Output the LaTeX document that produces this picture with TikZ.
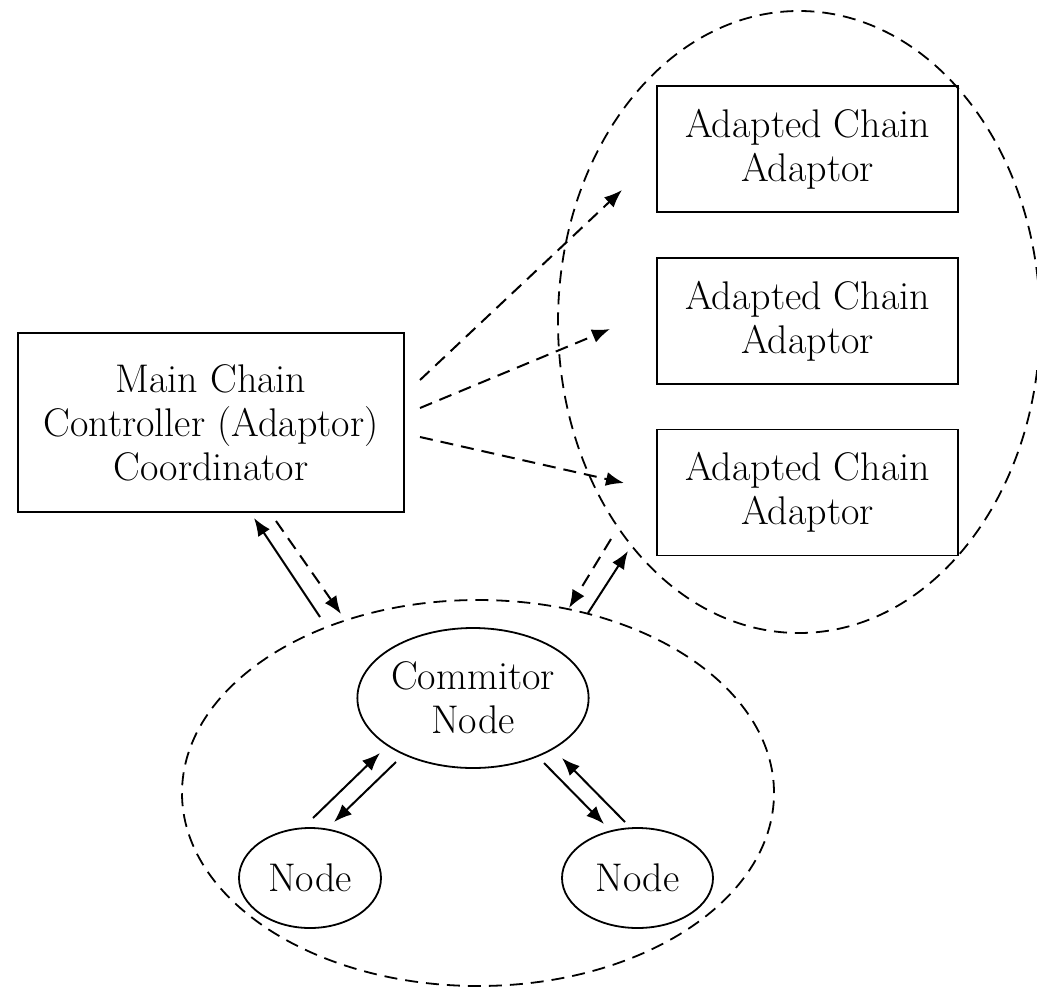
\documentclass[tikz,border=0pt]{standalone}
\usetikzlibrary{shapes.geometric,arrows.meta}
\begin{document}
\begin{tikzpicture}[x=0.5pt,y=-0.5pt,
  txt/.style={font=\fontsize{20}{22}\selectfont,align=center},
  box/.style={txt,draw,line width=0.9pt,rectangle,inner sep=0pt},
  oval/.style={txt,draw,line width=0.9pt,ellipse,inner sep=0pt},
  group/.style={draw,ellipse,line width=0.9pt,dash pattern=on 6.5pt off 4pt,inner sep=0pt},
  conn/.style={line width=1pt,-{Latex[length=9pt,width=7pt]}},
  dconn/.style={conn,dash pattern=on 6.5pt off 4pt}]
\useasboundingbox (0,0) rectangle (1037,990);
% groups
\node[group,minimum width=241pt,minimum height=311pt] (rgrp) at (799,322) {};
\node[group,minimum width=296pt,minimum height=193pt] (bgrp) at (478,793) {};
% main box
\node[box,minimum width=193pt,minimum height=89.5pt] (main) at (211,422.5) {Main Chain\\Controller (Adaptor)\\Coordinator};
% adapted boxes
\node[box,minimum width=150.5pt,minimum height=63pt] (a1) at (807.5,149) {Adapted Chain\\Adaptor};
\node[box,minimum width=150.5pt,minimum height=63pt] (a2) at (807.5,321) {Adapted Chain\\Adaptor};
\node[box,minimum width=150.5pt,minimum height=63pt] (a3) at (807.5,492.5) {Adapted Chain\\Adaptor};
% nodes
\node[oval,minimum width=108pt,minimum height=70pt] (cn) at (473,698) {Commitor\\Node};
\node[oval,minimum width=71pt,minimum height=50pt] (nl) at (310,878) {Node};
\node[oval,minimum width=75.5pt,minimum height=50pt] (nr) at (637.5,878) {Node};
% endpoints
\coordinate (m1) at (420,380); \coordinate (t1) at (622,190);
\coordinate (m2) at (420,408); \coordinate (t2) at (610,329);
\coordinate (m3) at (420,437); \coordinate (t3) at (624,483);
\coordinate (ls1) at (320,617); \coordinate (le1) at (254,518);
\coordinate (ls2) at (276,521); \coordinate (le2) at (341,614);
\coordinate (rs1) at (611,539); \coordinate (re1) at (569,608);
\coordinate (rs2) at (588,613); \coordinate (re2) at (628,551);
\coordinate (cl1) at (313,818); \coordinate (cl2) at (380,753);
\coordinate (cl3) at (396,762); \coordinate (cl4) at (334,822);
\coordinate (cr1) at (544,763); \coordinate (cr2) at (604,824);
\coordinate (cr3) at (625,822); \coordinate (cr4) at (562,758);
% connectors
\draw[dconn] (m1) -- (t1);
\draw[dconn] (m2) -- (t2);
\draw[dconn] (m3) -- (t3);
\draw[conn] (ls1) -- (le1);
\draw[dconn] (ls2) -- (le2);
\draw[dconn] (rs1) -- (re1);
\draw[conn] (rs2) -- (re2);
\draw[conn] (cl1) -- (cl2);
\draw[conn] (cl3) -- (cl4);
\draw[conn] (cr1) -- (cr2);
\draw[conn] (cr3) -- (cr4);
\end{tikzpicture}
\end{document}
